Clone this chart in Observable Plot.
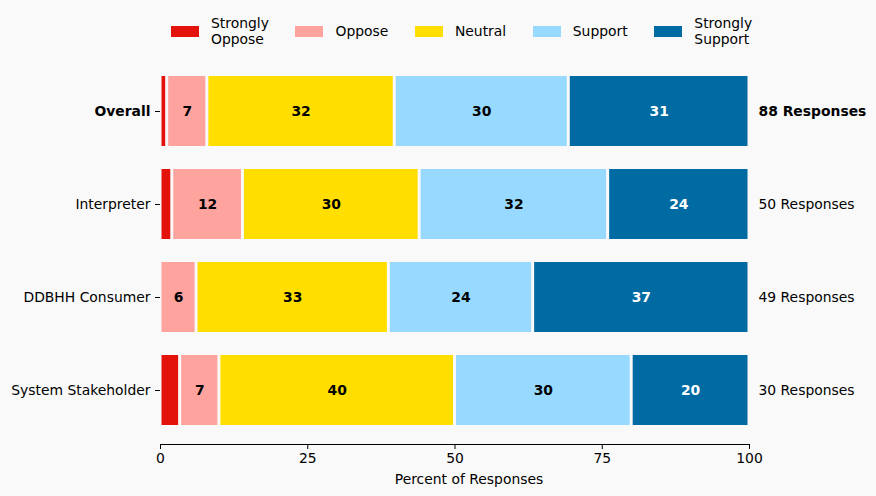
<!DOCTYPE html>
<html><head><meta charset="utf-8">
<script src="https://cdn.jsdelivr.net/npm/d3@7"></script>
<script src="https://cdn.jsdelivr.net/npm/@observablehq/plot@0.6"></script>
<style>
body{margin:0;background:#f9f9f9;font-family:"DejaVu Sans",sans-serif;}
#legend{height:55px;box-sizing:border-box;padding-top:15px;padding-left:171px;}
#legend .row{display:flex;align-items:center;height:32px;}
#legend .item{display:flex;align-items:center;margin-right:26.6px;font-size:13.9px;line-height:16px;color:#000;}
#legend .sw{width:28px;height:11px;margin-right:12px;flex:none;}
</style></head>
<body>
<div id="legend"><div class="row"></div></div>
<div id="chart"></div>
<script>
const groups = ["Overall", "Interpreter", "DDBHH Consumer", "System Stakeholder"];
const categories = ["Strongly Oppose", "Oppose", "Neutral", "Support", "Strongly Support"];
const legendLabels = ["Strongly<br>Oppose", "Oppose", "Neutral", "Support", "Strongly<br>Support"];
const colors = ["#e3120b", "#ffa39e", "#ffde00", "#98daff", "#006ba2"];
// response counts per group
const stronglyOppose = [1, 1, 0, 1];
const oppose = [6, 6, 3, 2];
const neutral = [28, 15, 16, 12];
const support = [26, 16, 12, 9];
const stronglySupport = [27, 12, 18, 6];
const responses = [88, 50, 49, 30];
const xTicks = [0, 25, 50, 75, 100];
const xLabel = "Percent of Responses";

const series = [stronglyOppose, oppose, neutral, support, stronglySupport];
const rows = [];
groups.forEach((g, i) => categories.forEach((c, j) => {
  rows.push({group: g, cat: c, pct: series[j][i] / responses[i] * 100});
}));
const barRows = rows.filter(d => d.pct > 0);

// legend
const row = document.querySelector("#legend .row");
categories.forEach((c, j) => {
  const it = document.createElement("div");
  it.className = "item";
  it.innerHTML = `<span class="sw" style="background:${colors[j]}"></span><span>${legendLabels[j]}</span>`;
  row.appendChild(it);
});

const resp = groups.map((g, i) => ({group: g, label: responses[i] + " Responses"}));

const chart = Plot.plot({
  width: 876,
  height: 441,
  marginLeft: 160,
  marginRight: 127,
  marginTop: 1,
  marginBottom: 52,
  style: {fontFamily: "DejaVu Sans, sans-serif", fontSize: "13.9px", background: "#f9f9f9", color: "#000"},
  x: {domain: [0, 100]},
  y: {domain: groups, paddingInner: 0.25, paddingOuter: 0.2},
  color: {domain: categories, range: colors},
  marks: [
    Plot.barX(barRows, Plot.stackX({x: "pct", y: "group", fill: "cat", insetLeft: 1.5, insetRight: 1.5})),
    Plot.text(rows, Plot.stackX({x: "pct", y: "group", text: d => (d.cat !== "Strongly Support" && d.pct >= 5) ? String(Math.round(d.pct)) : "", fill: "black", fontWeight: "bold"})),
    Plot.text(rows, Plot.stackX({x: "pct", y: "group", text: d => (d.cat === "Strongly Support" && d.pct >= 5) ? String(Math.round(d.pct)) : "", fill: "white", fontWeight: "bold"})),
    Plot.text(resp.filter(d => d.group === "Overall"), {y: "group", text: "label", frameAnchor: "right", textAnchor: "start", dx: 9, fontWeight: "bold", fill: "black"}),
    Plot.text(resp.filter(d => d.group !== "Overall"), {y: "group", text: "label", frameAnchor: "right", textAnchor: "start", dx: 9, fill: "black"}),
    Plot.axisY({ticks: ["Overall"], tickSize: 5, tickPadding: 5, fontWeight: "bold", label: null}),
    Plot.axisY({ticks: groups.slice(1), tickSize: 5, tickPadding: 5, label: null}),
    Plot.axisX({ticks: xTicks, tickSize: 5, tickPadding: 4, label: null}),
    Plot.text([xLabel], {text: d => d, frameAnchor: "bottom", dx: 14, dy: 35, lineAnchor: "middle", fill: "black"}),
    Plot.frame({anchor: "bottom", stroke: "black"})
  ]
});
document.getElementById("chart").appendChild(chart);
</script>
</body></html>
